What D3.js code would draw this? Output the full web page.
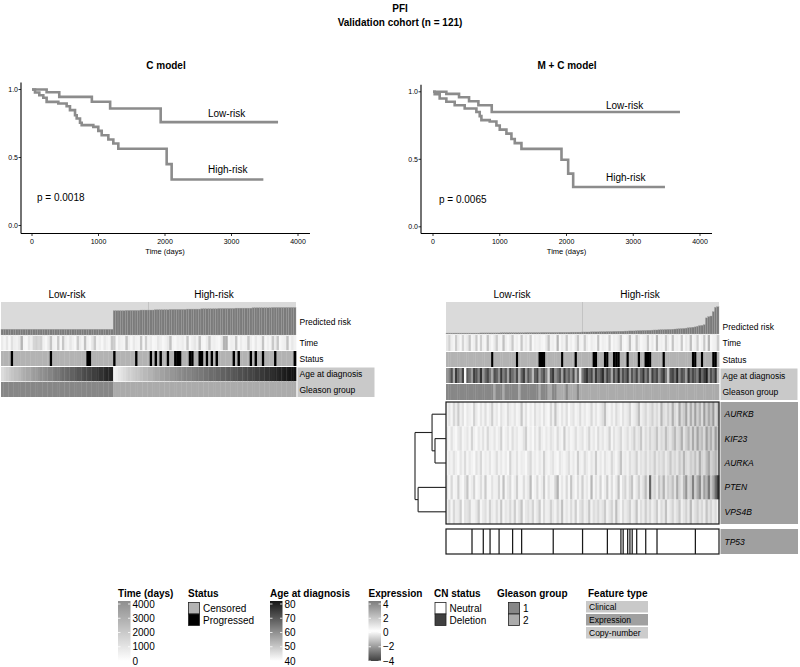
<!DOCTYPE html>
<html>
<head>
<meta charset="utf-8">
<script src="https://cdn.jsdelivr.net/npm/d3@7"></script>
<style>
body { margin: 0; background: #fff; }
text { font-family: "Liberation Sans", Arial, sans-serif; }
</style>
</head>
<body>
<svg id="fig" width="800" height="667"></svg>
<script>
// ---- Kaplan-Meier curves (time in days, survival fraction) ----
const cLowT  = [0, 220, 410, 900, 1175, 1935, 3700];
const cLowS  = [1, 0.98, 0.946, 0.91, 0.86, 0.76, 0.76];
const cHighT = [0, 45, 110, 170, 220, 396, 521, 571, 647, 672, 722, 747, 922, 997, 1048, 1148, 1223, 1298, 2025, 2100, 3479];
const cHighS = [1, 0.978, 0.958, 0.939, 0.909, 0.897, 0.877, 0.848, 0.811, 0.787, 0.755, 0.738, 0.725, 0.696, 0.664, 0.632, 0.603, 0.564, 0.451, 0.338, 0.338];
const mcLowT  = [0, 200, 390, 540, 680, 880, 3700];
const mcLowS  = [1, 0.985, 0.96, 0.93, 0.90, 0.85, 0.85];
const mcHighT = [0, 25, 100, 200, 325, 475, 650, 700, 725, 850, 950, 1000, 1100, 1175, 1225, 1325, 1925, 2025, 2100, 3475];
const mcHighS = [1, 0.983, 0.95, 0.926, 0.90, 0.876, 0.85, 0.82, 0.79, 0.78, 0.75, 0.72, 0.69, 0.65, 0.62, 0.577, 0.497, 0.394, 0.295, 0.295];
const pValues = ["p = 0.0018", "p = 0.0065"];
const xTicks = [0, 1000, 2000, 3000, 4000];
const yTicks = [0, 0.5, 1];

// ---- C model annotation rows (121 patients, ordered by predicted risk) ----
const cRisk = [
  0.18,0.18,0.18,0.18,0.18,0.18,0.18,0.18,0.18,0.18,
  0.18,0.18,0.18,0.18,0.18,0.18,0.18,0.18,0.18,0.18,
  0.18,0.18,0.18,0.18,0.18,0.18,0.18,0.18,0.18,0.18,
  0.18,0.18,0.18,0.18,0.18,0.18,0.18,0.18,0.18,0.18,
  0.18,0.18,0.18,0.18,0.18,0.18,
  0.76,0.76,0.76,0.76,0.76,0.77,0.77,0.77,0.77,0.77,
  0.77,0.78,0.78,0.78,0.78,0.78,0.78,0.79,0.79,0.79,
  0.79,0.79,0.79,0.80,0.80,0.80,0.80,0.80,0.80,0.80,
  0.81,0.81,0.81,0.81,0.81,0.81,0.82,0.82,0.82,0.82,
  0.82,0.82,0.82,0.83,0.83,0.83,0.83,0.83,0.83,0.83,
  0.84,0.84,0.84,0.84,0.84,0.84,0.84,0.85,0.85,0.85,
  0.85,0.85,0.85,0.85,0.85,0.86,0.86,0.86,0.86,0.86,
  0.86,0.86,0.86,0.86,0.86];
const cTime = [
  700,400,900,300,1100,600,500,800,2600,400,
  300,900,600,1500,1700,1400,1600,500,300,800,
  2100,500,400,1900,300,2000,600,400,900,500,
  300,1800,700,400,2200,500,300,900,1900,400,
  600,300,800,500,400,2000,1800,300,700,500,
  400,2100,600,300,800,500,400,2000,300,1700,
  500,700,300,400,900,600,300,500,800,2200,
  400,300,600,500,700,400,2000,300,600,900,
  500,2100,400,300,700,1900,500,600,400,300,
  800,2700,2800,400,600,500,2000,300,700,400,
  500,1900,600,300,800,400,500,2100,300,600,
  400,1900,700,2000,300,500,600,2200,400,800,
  500];
const cStatus = [
  0,0,0,0,1,0,0,0,0,0,
  0,0,0,0,0,0,0,0,0,0,
  1,0,0,0,0,0,0,0,0,0,
  0,0,0,0,0,1,1,0,0,0,
  0,0,0,0,0,0,1,0,0,0,
  0,0,0,0,0,1,0,0,0,0,
  0,1,0,1,0,1,0,0,1,0,
  0,1,1,1,0,0,0,1,1,0,
  0,1,1,0,1,0,1,0,1,0,
  0,0,0,0,0,1,0,1,0,0,
  0,0,1,0,1,0,0,1,0,0,
  0,0,1,0,0,0,0,0,0,0,
  1];
const cAge = [
  46,47,48,49,50,51,51,52,53,54,
  55,55,56,57,57,58,59,59,60,61,
  61,62,63,63,64,65,65,66,67,67,
  68,69,69,70,71,71,72,73,73,74,
  75,75,76,77,77,78,
  42,43,44,45,46,47,48,48,49,50,
  50,51,52,52,53,53,54,55,55,56,
  56,57,57,58,58,59,59,60,60,61,
  61,61,62,62,63,63,63,64,64,65,
  65,65,66,66,67,67,67,68,68,69,
  69,70,70,70,71,71,72,72,73,73,
  74,74,75,75,76,76,77,77,78,78,
  79,79,80,80,81];
const cGleason = [
  1,1,1,1,1,1,1,1,1,1, 1,1,1,1,1,1,1,1,1,1,
  1,1,1,1,1,1,1,1,1,1, 1,1,1,1,1,1,1,1,1,1,
  1,1,1,1,1,1,
  2,2,2,2,2,2,2,2,2,2, 2,2,2,2,2,2,2,2,2,2,
  2,2,2,2,2,2,2,2,2,2, 2,2,2,2,2,2,2,2,2,2,
  2,2,2,2,2,2,2,2,2,2, 2,2,2,2,2,2,2,2,2,2,
  2,2,2,2,2,2,2,2,2,2, 2,2,2,2,2];

// ---- M + C model annotation rows ----
const mcRisk = [
  0.03,0.03,0.03,0.03,0.03,0.03,0.03,0.03,0.03,0.03,
  0.03,0.03,0.03,0.03,0.03,0.035,0.035,0.035,0.035,0.035,
  0.035,0.035,0.035,0.035,0.04,0.04,0.04,0.04,0.04,0.04,
  0.04,0.04,0.04,0.04,0.04,0.045,0.045,0.045,0.045,0.045,
  0.045,0.045,0.05,0.05,0.05,0.05,0.05,0.05,0.05,0.05,
  0.055,0.055,0.055,0.055,0.055,0.06,0.06,0.06,0.06,0.06,
  0.065,0.065,0.065,0.065,0.07,0.07,0.07,0.07,0.075,0.075,
  0.075,0.08,0.08,0.08,0.085,0.085,0.09,0.09,0.09,0.095,
  0.095,0.10,0.10,0.10,0.105,0.11,0.11,0.115,0.115,0.12,
  0.12,0.125,0.13,0.13,0.135,0.14,0.14,0.145,0.15,0.15,
  0.155,0.16,0.165,0.17,0.175,0.18,0.19,0.20,0.21,0.22,
  0.23,0.25,0.27,0.28,0.30,0.52,0.56,0.58,0.72,0.86,
  0.88];
const mcTime = [
  900,1600,600,400,1800,700,300,1500,500,800,
  2000,400,600,1900,300,1700,500,400,2100,600,
  300,800,1800,500,400,2200,600,300,700,1900,
  400,600,300,2000,500,800,400,1800,300,600,
  500,700,400,300,900,2100,500,600,400,2600,
  300,700,500,1900,400,600,300,800,2000,500,
  400,1800,600,300,700,500,400,2100,300,600,
  500,400,1700,300,600,500,800,2000,400,300,
  600,2200,500,400,1900,700,300,500,600,2000,
  400,800,300,2400,500,600,400,1800,700,300,
  2100,500,600,400,1900,300,800,500,2300,400,
  600,1700,300,500,2000,400,2600,300,500,600,
  1800];
const mcStatus = [
  0,0,0,0,0,0,0,0,0,0,
  0,0,0,0,0,0,0,0,0,0,
  1,0,0,0,0,0,0,0,0,0,
  0,1,0,0,0,0,0,0,0,0,
  0,1,1,1,0,0,0,0,0,0,
  0,1,0,0,0,0,0,1,0,0,
  0,0,0,0,0,1,1,0,0,0,
  1,1,0,0,1,1,1,0,0,0,
  1,0,0,0,0,1,0,0,1,1,
  1,0,0,0,0,0,1,0,0,0,
  0,0,0,0,0,0,0,0,0,1,
  1,0,0,1,0,0,0,0,1,1,
  0];
const mcAge = [
  58,62,70,55,74,66,60,72,41,68,
  64,57,73,69,61,75,58,66,71,63,
  55,70,67,59,74,62,68,56,72,65,
  60,71,54,66,73,58,69,63,52,67,
  72,57,65,70,61,48,68,74,59,64,
  69,56,73,62,67,60,71,53,66,45,
  63,70,75,67,72,58,74,65,69,76,
  61,73,68,55,71,64,77,60,70,66,
  74,57,69,63,72,59,67,75,62,70,
  56,73,66,71,60,68,74,63,50,69,
  72,65,77,61,70,67,58,75,64,71,
  68,62,76,66,73,79,60,70,65,74,
  52];
const mcGleason = [
  1,1,1,1,1,1,1,1,1,1,
  1,1,1,1,1,1,1,1,1,1,
  1,2,1,1,1,2,1,1,1,1,
  1,1,2,1,1,1,1,1,1,1,
  1,2,1,1,1,2,2,1,1,2,
  2,2,2,1,2,2,2,2,1,2,
  2,2,2,2,2,2,2,2,2,2, 2,2,2,2,2,2,2,2,2,2,
  2,2,2,2,2,2,2,2,2,2, 2,2,2,2,2,2,2,2,2,2,
  2,2,2,2,2,2,2,2,2,2, 2,2,2,2,2,2,2,2,2,2,
  2];

// ---- expression (z-scores) ----
const genes = ["AURKB", "KIF23", "AURKA", "PTEN", "VPS4B"];
const exprAURKB = [
  0.4,0.8,0.3,1.2,0.6,1.6,0.5,0.9,0.2,0.7, 0.5,0.3,1.4,0.6,0.2,0.8,0.4,1.0,0.3,0.6,
  1.5,0.4,0.7,0.2,0.9,0.5,0.3,1.1,0.6,0.4, 0.8,0.3,0.5,1.7,0.4,0.9,0.2,0.6,0.3,1.0,
  0.5,0.7,0.3,0.9,0.4,0.2,1.2,0.5,1.8,0.6, 0.3,0.8,0.4,1.0,0.2,0.6,0.9,0.3,0.5,1.1,
  0.4,0.7,0.3,0.5,1.2,0.4,0.8,0.3,0.6,1.0, 1.9,0.5,0.3,0.8,0.4,1.1,0.6,0.3,0.9,0.5,
  0.7,1.3,0.4,0.6,1.0,2.0,0.5,0.8,1.2,0.6, 0.9,1.4,0.7,1.1,0.6,2.2,1.0,0.8,1.5,0.9,
  2.4,1.1,0.8,2.6,1.2,1.6,2.8,1.0,2.5,1.3, 2.9,1.4,2.3,1.1,3.0,1.5,2.6,1.8,3.1,1.2,
  2.0];
const exprKIF23 = [
  0.6,0.3,0.9,0.4,0.2,0.7,1.0,0.3,0.5,0.8, 0.3,1.3,0.5,0.2,0.7,0.4,0.9,0.3,1.2,0.5,
  0.4,0.8,0.3,0.6,1.4,0.2,0.5,0.8,0.3,1.0, 0.5,0.7,0.3,0.4,0.9,1.5,0.3,0.6,0.2,0.8,
  0.4,1.2,0.5,0.3,0.7,0.4,0.9,0.6,0.3,1.1, 0.5,0.3,1.6,0.4,0.7,0.3,0.5,1.0,0.4,0.6,
  0.9,0.3,0.6,1.3,0.4,0.7,0.3,1.1,0.5,0.8, 0.4,0.6,1.4,0.3,0.9,0.5,0.7,1.2,0.4,0.6,
  1.0,0.5,0.8,1.5,0.6,0.9,1.7,0.5,1.1,0.7, 1.3,0.8,1.0,1.8,0.7,1.2,0.9,2.0,1.1,0.8,
  1.4,2.1,1.0,1.3,2.4,0.9,1.5,2.2,1.2,2.6, 1.3,2.8,1.6,2.0,1.2,2.9,1.7,2.4,1.4,3.0,
  1.8];
const exprAURKA = [
  0.3,0.6,0.4,0.9,0.5,0.2,0.8,0.4,1.1,0.3, 0.7,0.4,0.2,0.9,0.5,1.2,0.3,0.6,0.4,0.8,
  0.3,0.5,1.0,0.4,0.7,0.3,0.6,0.2,1.3,0.5, 0.4,0.9,0.3,0.6,0.5,0.2,0.8,1.2,0.4,0.6,
  0.3,0.7,0.4,1.4,0.5,0.3,0.6,0.9,0.4,0.2, 0.8,0.5,0.3,0.6,1.0,0.4,0.7,0.3,1.5,0.5,
  0.4,1.1,0.6,0.3,0.8,0.5,1.6,0.4,0.7,0.3, 0.9,0.5,0.4,1.2,0.6,0.3,0.8,1.8,0.5,0.7,
  0.4,1.0,0.6,0.8,1.4,0.5,0.9,0.7,1.2,0.6, 1.0,0.8,1.5,0.7,1.1,0.9,1.3,0.6,1.0,1.7,
  0.9,1.2,0.8,1.6,1.0,2.2,1.1,0.9,1.5,1.2, 1.9,1.0,2.5,1.3,1.1,2.0,2.7,1.4,1.8,2.3,
  1.5];
const exprPTEN = [
  -0.5,0.3,-0.8,-0.2,0.4,-1.0,-0.3,0.2,-0.6,-1.2, 0.3,-0.4,-0.9,0.2,-0.3,-0.7,0.4,-1.1,-0.2,0.3,
  -0.6,-0.3,0.5,-0.9,-0.2,-1.3,0.3,-0.5,-0.8,0.2, -0.4,-1.0,0.3,-0.2,-0.7,0.4,-0.5,-1.4,0.2,-0.3,
  -0.8,0.3,-0.4,-1.1,0.2,-0.6,-0.3,0.4,-0.9,-1.6, 0.3,-0.5,-0.2,-0.8,0.3,-1.2,-0.4,0.2,-0.7,-0.3,
  -1.0,0.4,-0.5,-0.2,-1.5,0.3,-0.6,-0.3,-0.9,0.2, -0.4,-1.1,0.3,-0.7,-0.2,-0.5,-1.3,0.2,-0.6,-0.9,
  -0.3,-0.8,-1.2,0.3,-0.5,-1.0,-0.4,-0.7,-1.4,-0.5, -3.2,-0.6,-0.9,-0.4,-1.2,-0.7,-1.6,-0.5,-1.0,-0.8,
  -1.3,-0.6,-1.8,-0.9,-0.5,-1.4,-2.2,-0.8,-1.1,-2.6, -1.0,-1.7,-2.4,-0.9,-2.0,-1.5,-2.8,-1.2,-1.9,-3.0,
  -4.6];
const exprVPS4B = [
  0.5,-0.8,0.3,1.2,-0.4,0.7,1.5,0.2,-0.6,0.9, 1.3,0.4,-0.3,0.8,1.6,0.3,-0.5,1.0,0.4,1.4,
  0.6,-0.3,1.1,0.5,1.7,0.3,0.8,-0.4,1.2,0.5, 1.5,0.4,0.9,1.8,0.3,-0.5,1.0,0.6,1.3,0.4,
  0.8,1.6,0.3,1.1,0.5,-0.4,1.4,0.7,0.4,1.2, 0.6,1.9,0.4,0.8,-0.3,1.1,0.5,1.5,0.3,0.9,
  1.3,0.5,0.7,1.7,0.4,1.0,-0.5,1.2,0.6,0.9, 1.6,0.4,0.8,1.3,0.5,2.0,0.7,0.3,1.1,0.6,
  0.9,1.4,0.5,0.8,1.8,0.4,1.0,0.6,1.5,0.7, 1.2,0.5,0.9,1.6,0.4,1.1,0.7,1.9,0.5,0.8,
  1.3,0.6,1.0,1.7,0.5,0.9,1.4,0.7,2.1,0.6, 1.0,1.5,0.8,1.2,0.6,1.8,0.9,1.3,0.7,1.1,
  0.4];
// TP53 copy number: 1 = deletion
const cnTP53 = [
  0,0,0,0,0,0,0,0,0,0, 0,1,0,0,0,0,1,0,0,1,
  0,0,0,1,0,0,0,0,0,1, 0,0,0,1,0,0,0,0,0,0,
  0,0,0,0,0,0,0,1,0,0, 0,0,0,0,0,0,0,0,0,0,
  1,0,0,0,0,0,0,0,0,0, 0,1,0,0,0,0,0,1,1,0,
  1,1,1,0,1,0,0,0,1,0, 0,0,0,1,0,0,0,0,0,0,
  0,0,0,0,0,0,0,0,0,0, 1,0,0,0,0,0,0,0,0,0,
  0];
// dendrogram merge heights
const geneTree = {h: 1, children: [
  {h: 0.45, children: [{name: "AURKB"}, {h: 0.355, children: [{name: "KIF23"}, {name: "AURKA"}]}]},
  {h: 0.9, children: [{name: "PTEN"}, {name: "VPS4B"}]}
]};

// ---- legends ----
const timeLegend = [4000, 3000, 2000, 1000, 0];
const ageLegend = [80, 70, 60, 50, 40];
const exprLegend = [4, 2, 0, -2, -4];
const statusNames = ["Censored", "Progressed"];
const cnNames = ["Neutral", "Deletion"];
const gleasonNames = ["1", "2"];
const featureTypes = ["Clinical", "Expression", "Copy-number"];

// ---------------------------------------------------------------
const svg = d3.select('#fig');
const kmGrey = '#8c8c8c';
const timeColor = d3.scaleLinear().domain([0, 4000]).range(['#ffffff', '#8e8e8e']);
const ageColor = d3.scaleLinear().domain([40, 80]).range(['#ffffff', '#161616']);
const exprColor = d3.scaleLinear().domain([-4, 0, 4]).range(['#3f3f3f', '#ffffff', '#7c7c7c']).clamp(true);
const statusColor = ['#b3b3b3', '#000000'];
const gleasonColor = {1: '#878787', 2: '#ababab'};
const featColor = {Clinical: '#c9c9c9', Expression: '#a0a0a0', 'Copy-number': '#cccccc'};

function label(x, y, s, size, opts = {}) {
	return svg.append('text')
		.attr('x', x).attr('y', y)
		.attr('font-size', size)
		.attr('font-weight', opts.bold ? 'bold' : null)
		.attr('font-style', opts.italic ? 'italic' : null)
		.attr('text-anchor', opts.anchor || 'start')
		.attr('dominant-baseline', 'central')
		.attr('fill', opts.fill || '#000')
		.text(s);
}

label(400, 8, 'PFI', 10, {bold: true, anchor: 'middle'});
label(400, 22, 'Validation cohort (n = 121)', 10, {bold: true, anchor: 'middle'});

// ---- KM plots ----
function drawKM(cfg) {
	let x = d3.scaleLinear().domain([0, 4000]).range(cfg.xr),
		y = d3.scaleLinear().domain([0, 1]).range(cfg.yr),
		g = svg.append('g');

	label(cfg.titleX, 65, cfg.title, 10, {bold: true, anchor: 'middle'});

	let line = d3.line()
		.x(d => x(d[0]))
		.y(d => y(d[1]))
		.curve(d3.curveStepAfter);

	cfg.curves.forEach(c => {
		g.append('path')
			.datum(d3.zip(c.t, c.s))
			.attr('d', line)
			.attr('fill', 'none')
			.attr('stroke', kmGrey)
			.attr('stroke-width', 2.6);
		label(c.lx, c.ly, c.name, 10);
	});

	// axes
	g.append('line').attr('x1', cfg.axisX).attr('x2', cfg.axisX)
		.attr('y1', cfg.yr[1] - 7).attr('y2', 233.5)
		.attr('stroke', '#000').attr('stroke-width', 1.1);
	g.append('line').attr('x1', cfg.axisX).attr('x2', x(4180))
		.attr('y1', 233.5).attr('y2', 233.5)
		.attr('stroke', '#000').attr('stroke-width', 1.1);

	yTicks.forEach(v => {
		g.append('line').attr('x1', cfg.axisX - 2.5).attr('x2', cfg.axisX)
			.attr('y1', y(v)).attr('y2', y(v)).attr('stroke', '#000').attr('stroke-width', 0.8);
		label(cfg.axisX - 3, y(v), d3.format('.1f')(v), 7, {anchor: 'end'});
	});
	xTicks.forEach(v => {
		g.append('line').attr('x1', x(v)).attr('x2', x(v))
			.attr('y1', 233.5).attr('y2', 236).attr('stroke', '#000').attr('stroke-width', 0.8);
		label(x(v), 241.5, v, 7, {anchor: 'middle'});
	});
	label((cfg.xr[0] + cfg.xr[1]) / 2, 251, 'Time (days)', 7.5, {anchor: 'middle'});
	label(cfg.pX, cfg.pY, cfg.p, 10);
}

drawKM({
	title: 'C model', titleX: 166, xr: [32, 298], yr: [225.5, 89.5], axisX: 21,
	curves: [
		{t: cLowT, s: cLowS, name: 'Low-risk', lx: 208, ly: 113},
		{t: cHighT, s: cHighS, name: 'High-risk', lx: 208, ly: 169}
	],
	p: pValues[0], pX: 37, pY: 197
});
drawKM({
	title: 'M + C model', titleX: 567, xr: [433, 700], yr: [226.8, 91.8], axisX: 421,
	curves: [
		{t: mcLowT, s: mcLowS, name: 'Low-risk', lx: 606, ly: 105},
		{t: mcHighT, s: mcHighS, name: 'High-risk', lx: 606, ly: 177.5}
	],
	p: pValues[1], pX: 439, pY: 199
});

// ---- annotation heatmaps ----
function cellRow(x, y0, y1, vals, color) {
	svg.append('g').selectAll('rect')
		.data(vals).join('rect')
		.attr('x', (d, i) => x(i))
		.attr('y', y0)
		.attr('width', x.bandwidth() + 0.35)
		.attr('height', y1 - y0)
		.attr('fill', color);
}

function drawAnno(cfg) {
	let x = d3.scaleBand().domain(d3.range(cfg.risk.length)).range(cfg.xr),
		r = cfg.rows,
		mid = (cfg.xr[0] + cfg.xr[1]) / 2;

	label(cfg.headX[0], 294, 'Low-risk', 10, {anchor: 'middle'});
	label(cfg.headX[1], 294, 'High-risk', 10, {anchor: 'middle'});

	// predicted risk barplot
	let ry = d3.scaleLinear().domain([0, 1]).range([r[0][1], r[0][0] + 1]);
	svg.append('rect').attr('x', cfg.xr[0]).attr('y', r[0][0])
		.attr('width', cfg.xr[1] - cfg.xr[0]).attr('height', r[0][1] - r[0][0])
		.attr('fill', '#dadada');
	svg.append('line').attr('x1', mid).attr('x2', mid)
		.attr('y1', r[0][0]).attr('y2', r[0][1])
		.attr('stroke', '#b4b4b4').attr('stroke-width', 0.6);
	svg.append('g').selectAll('rect')
		.data(cfg.risk).join('rect')
		.attr('x', (d, i) => x(i))
		.attr('y', d => ry(d))
		.attr('width', x.bandwidth())
		.attr('height', d => ry(0) - ry(d))
		.attr('fill', '#7b7b7b')
		.attr('stroke', '#a4a4a4')
		.attr('stroke-width', 0.35);

	cellRow(x, r[1][0], r[1][1], cfg.time, timeColor);
	cellRow(x, r[2][0], r[2][1], cfg.status, d => statusColor[d]);
	cellRow(x, r[3][0], r[3][1], cfg.age, ageColor);
	cellRow(x, r[4][0], r[4][1], cfg.gleason, d => gleasonColor[d]);

	// clinical feature box behind age / gleason labels
	svg.append('rect').attr('x', cfg.xr[1] + 1.5).attr('y', r[3][0] + 0.5)
		.attr('width', 77).attr('height', r[4][1] - r[3][0] - 0.5)
		.attr('fill', featColor.Clinical);

	let names = ['Predicted risk', 'Time', 'Status', 'Age at diagnosis', 'Gleason group'];
	names.forEach((s, i) => {
		let yc = i == 0 ? cfg.riskLabelY : (r[i][0] + r[i][1]) / 2;
		label(cfg.xr[1] + 3.5, yc, s, 8.5);
	});
	return x;
}

drawAnno({
	xr: [1, 296], headX: [67, 214],
	rows: [[302, 335], [336, 350.2], [351, 366], [367, 381.3], [382, 397]],
	riskLabelY: 322,
	risk: cRisk, time: cTime, status: cStatus, age: cAge, gleason: cGleason
});
let xr = drawAnno({
	xr: [446, 719], headX: [512, 640],
	rows: [[302, 334], [335, 351], [352, 367], [368, 383], [384, 400]],
	riskLabelY: 327,
	risk: mcRisk, time: mcTime, status: mcStatus, age: mcAge, gleason: mcGleason
});

// ---- expression heatmap ----
const exprRows = [exprAURKB, exprKIF23, exprAURKA, exprPTEN, exprVPS4B];
let gy = d3.scaleBand().domain(genes).range([402, 524]);
exprRows.forEach((vals, gi) => {
	cellRow(xr, gy(genes[gi]), gy(genes[gi]) + gy.bandwidth(), vals, exprColor);
});
svg.append('rect').attr('x', 446).attr('y', 402).attr('width', 273).attr('height', 122)
	.attr('fill', 'none').attr('stroke', '#1a1a1a').attr('stroke-width', 1.2);
svg.append('rect').attr('x', 720.5).attr('y', 402).attr('width', 77.5).attr('height', 122)
	.attr('fill', featColor.Expression);
genes.forEach(gname => label(724.5, gy(gname) + gy.bandwidth() / 2, gname, 8.5, {italic: true}));

// dendrogram
let root = d3.hierarchy(geneTree),
	hx = d3.scaleLinear().domain([0, 1]).range([446, 415]);
root.eachAfter(nd => {
	if (!nd.children) {
		nd.py = gy(nd.data.name) + gy.bandwidth() / 2;
		nd.px = hx(0);
	} else {
		nd.py = d3.mean(nd.children, c => c.py);
		nd.px = hx(nd.data.h);
	}
});
let dg = svg.append('g').attr('fill', 'none').attr('stroke', '#222').attr('stroke-width', 1.1);
root.descendants().filter(nd => nd.children).forEach(nd => {
	let ys = nd.children.map(c => c.py);
	dg.append('line').attr('x1', nd.px).attr('x2', nd.px)
		.attr('y1', d3.min(ys)).attr('y2', d3.max(ys));
	nd.children.forEach(c => {
		dg.append('line').attr('x1', nd.px).attr('x2', c.px)
			.attr('y1', c.py).attr('y2', c.py);
	});
});

// ---- TP53 copy number ----
let deletions = cnTP53.map((d, i) => ({d, i})).filter(o => o.d == 1);
svg.append('rect').attr('x', 446).attr('y', 529).attr('width', 273).attr('height', 25)
	.attr('fill', '#fff').attr('stroke', '#1a1a1a').attr('stroke-width', 1.2);
svg.append('g').selectAll('rect')
	.data(deletions).join('rect')
	.attr('x', o => xr(o.i) + xr.bandwidth() * 0.25)
	.attr('y', 529).attr('width', xr.bandwidth() * 0.55).attr('height', 25)
	.attr('fill', '#1a1a1a');
svg.append('rect').attr('x', 720.5).attr('y', 529).attr('width', 77.5).attr('height', 25)
	.attr('fill', featColor.Expression);
label(724.5, 541.5, 'TP53', 8.5, {italic: true});

// ---- legends ----
let defs = svg.append('defs');
function gradLegend(id, x0, title, ticks, color) {
	let y = d3.scaleLinear().domain([ticks[0], ticks[ticks.length - 1]]).range([604, 661]),
		grad = defs.append('linearGradient').attr('id', id)
			.attr('x1', 0).attr('x2', 0).attr('y1', 0).attr('y2', 1);
	d3.range(0, 1.01, 0.125).forEach(f => {
		grad.append('stop').attr('offset', f)
			.attr('stop-color', color(ticks[0] + f * (ticks[ticks.length - 1] - ticks[0])));
	});
	label(x0, 593, title, 10, {bold: true});
	svg.append('rect').attr('x', x0).attr('y', 601).attr('width', 12.5).attr('height', 60)
		.attr('fill', `url(#${id})`);
	ticks.forEach(v => {
		svg.append('line').attr('x1', x0).attr('x2', x0 + 2.5).attr('y1', y(v)).attr('y2', y(v))
			.attr('stroke', '#fff').attr('stroke-width', 0.8);
		svg.append('line').attr('x1', x0 + 10).attr('x2', x0 + 12.5).attr('y1', y(v)).attr('y2', y(v))
			.attr('stroke', '#fff').attr('stroke-width', 0.8);
		label(x0 + 14.5, y(v), v < 0 ? '\u2212' + Math.abs(v) : v, 10);
	});
}
gradLegend('g-time', 118, 'Time (days)', timeLegend, timeColor);
gradLegend('g-age', 270, 'Age at diagnosis', ageLegend, ageColor);
gradLegend('g-expr', 368.5, 'Expression', exprLegend, exprColor);

function boxLegend(x0, bx, title, names, colors) {
	label(x0, 593, title, 10, {bold: true});
	names.forEach((s, i) => {
		svg.append('rect').attr('x', bx).attr('y', 602.5 + i * 11.5)
			.attr('width', 11).attr('height', 11.5)
			.attr('fill', colors[i]).attr('stroke', '#222').attr('stroke-width', 0.8);
		label(bx + 14.5, 608.5 + i * 11.5, s, 10);
	});
}
boxLegend(188, 188.5, 'Status', statusNames, statusColor);
boxLegend(434, 435, 'CN status', cnNames, ['#ffffff', '#404040']);
boxLegend(497, 508.5, 'Gleason group', gleasonNames, gleasonNames.map(k => gleasonColor[k]));

label(588, 593, 'Feature type', 10, {bold: true});
featureTypes.forEach((s, i) => {
	svg.append('rect').attr('x', 586).attr('y', 601 + i * 13)
		.attr('width', 62).attr('height', 11.5).attr('fill', featColor[s]);
	label(589, 607 + i * 13, s, 8.5);
});
</script>
</body>
</html>
